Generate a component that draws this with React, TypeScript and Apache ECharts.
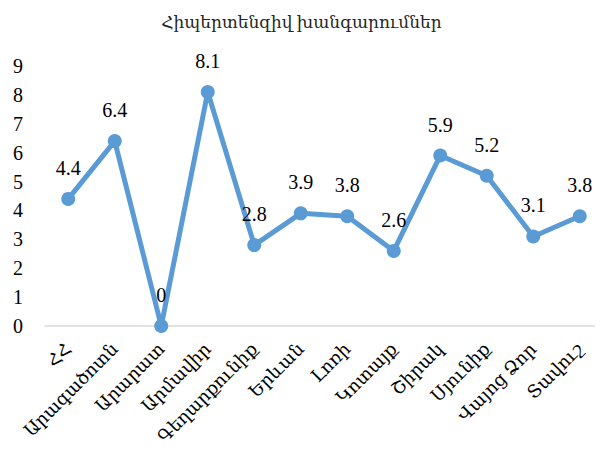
import React, { useEffect, useRef } from "react";
import * as echarts from "echarts";

const title = "Հիպերտենզիվ խանգարումներ";
const categories = [
  "ՀՀ",
  "Արագածոտն",
  "Արարատ",
  "Արմավիր",
  "Գեղարքունիք",
  "Երևան",
  "Լոռի",
  "Կոտայք",
  "Շիրակ",
  "Սյունիք",
  "Վայոց Ձոր",
  "Տավուշ",
];
const values = [4.4, 6.4, 0, 8.1, 2.8, 3.9, 3.8, 2.6, 5.9, 5.2, 3.1, 3.8];
const yMin = 0;
const yMax = 9;
const yInterval = 1;

const FONT = "Liberation Serif, DejaVu Serif, serif";

export default function App() {
  const ref = useRef<HTMLDivElement>(null);
  useEffect(() => {
    if (!ref.current) return;
    const chart = echarts.init(ref.current, undefined, { renderer: "svg" });
    chart.setOption({
      animation: false,
      textStyle: { fontFamily: FONT },
      title: {
        text: title,
        left: "center",
        top: 9,
        textStyle: { fontFamily: FONT, fontSize: 17, fontWeight: "normal", color: "#262626" },
      },
      grid: { left: 45, right: 0, top: 66, bottom: 124 },
      xAxis: {
        type: "category",
        data: categories,
        boundaryGap: true,
        axisLine: { show: true, lineStyle: { color: "#d9d9d9", width: 1.5 } },
        axisTick: { show: false },
        axisLabel: {
          rotate: 45,
          interval: 0,
          margin: 20,
          fontFamily: FONT,
          fontSize: 18,
          color: "#000",
        },
      },
      yAxis: {
        type: "value",
        min: yMin,
        max: yMax,
        interval: yInterval,
        splitLine: { show: false },
        axisLine: { show: false },
        axisTick: { show: false },
        axisLabel: { fontFamily: FONT, fontSize: 20, color: "#000", margin: 22 },
      },
      series: [
        {
          type: "line",
          data: values,
          symbol: "circle",
          symbolSize: 14,
          lineStyle: { color: "#5B9BD5", width: 5 },
          itemStyle: { color: "#5B9BD5" },
          label: {
            show: true,
            position: "top",
            distance: 14,
            fontFamily: FONT,
            fontSize: 20,
            color: "#000",
          },
        },
      ],
    });
    return () => chart.dispose();
  }, []);
  return <div ref={ref} style={{ width: 603, height: 450, margin: -8 }} />;
}
